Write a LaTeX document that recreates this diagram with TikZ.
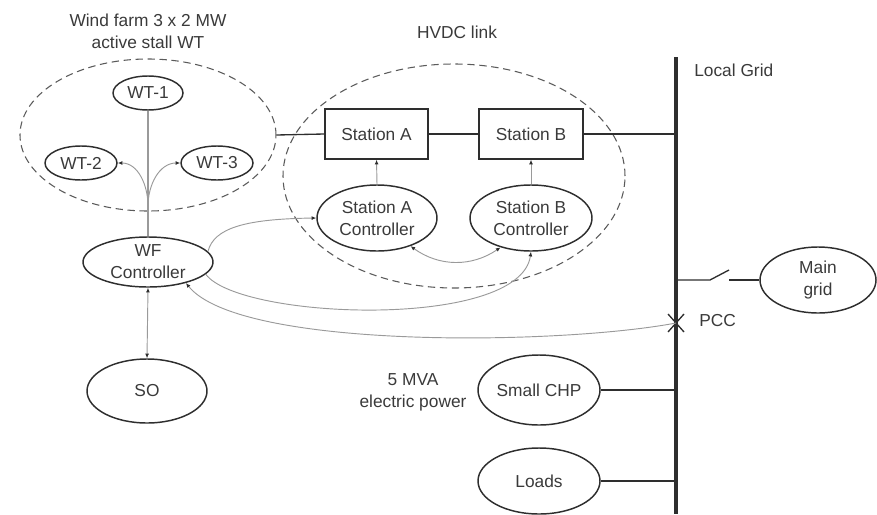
\documentclass[tikz,border=0pt]{standalone}
\usepackage{fontspec}
\setmainfont{Liberation Sans}
\usetikzlibrary{arrows.meta,shapes.geometric,calc}

\definecolor{ink}{HTML}{2E2E2E}
\definecolor{txt}{HTML}{3A3A3A}
\definecolor{ctlgray}{HTML}{9A9A9A}
\definecolor{dashgray}{HTML}{5A5A5A}

\begin{document}
\begin{tikzpicture}[x=0.75pt,y=-0.75pt,
  font=\fontsize{13}{16.5}\selectfont,
  every node/.style={text=txt},
  sz/.style 2 args={minimum width=#1*0.75pt, minimum height=#2*0.75pt},
  unit/.style={ellipse, draw=ink, line width=1.1pt, inner sep=0pt, align=center},
  station/.style={rectangle, draw=ink, line width=1.1pt, inner sep=0pt},
  group/.style={ellipse, draw=dashgray, line width=0.8pt, dash pattern=on 5.5pt off 3.5pt, inner sep=0pt},
  power/.style={draw=ink, line width=1pt},
  bus/.style={draw=ink, line width=2.3pt},
  ctl/.style={draw=ctlgray, line width=0.7pt},
  tip/.style={-{Latex[length=3.5pt,width=3pt,color=ink]}},
  tips/.style={{Latex[length=3.5pt,width=3pt,color=ink]}-{Latex[length=3.5pt,width=3pt,color=ink]}},
  label/.style={align=center, inner sep=0pt}
]
\useasboundingbox (0,0) rectangle (877,514);

% dashed groupings
\node[group, sz={256}{152}] (wfarm) at (148,135) {};
\node[group, sz={342}{224}] (hvdc) at (454,176) {};

% wind farm units
\node[unit, sz={70}{34}] (wt1) at (148,93) {WT-1};
\node[unit, sz={72}{34}] (wt2) at (81,163) {WT-2};
\node[unit, sz={72}{34}] (wt3) at (217,163) {WT-3};
\node[unit, sz={130}{50}] (wf) at (148,262) {WF\\Controller};
\node[unit, sz={120}{64}] (so) at (147,391) {SO};

% HVDC stations and controllers
\node[station, sz={103}{50}] (sta) at (376.5,134) {Station A};
\node[station, sz={104}{50}] (stb) at (531,134) {Station B};
\node[unit, sz={120}{66}] (actl) at (377,218) {Station A\\Controller};
\node[unit, sz={122}{66}] (bctl) at (531,218) {Station B\\Controller};

% grid side
\node[unit, sz={116}{66}] (main) at (818,280) {Main\\grid};
\node[unit, sz={122}{70}] (chp) at (539,390) {Small CHP};
\node[unit, sz={122}{66}] (loads) at (539,481) {Loads};

% labels
\node[label] (lwf) at (148,31) {Wind farm 3 x 2 MW\\active stall WT};
\node[label] (lhvdc) at (457,32) {HVDC link};
\node[label, anchor=west] (lgrid) at (694,70) {Local Grid};
\node[label, anchor=west] (lpcc) at (699,321) {PCC};
\node[label] (lchp) at (413,392) {5 MVA\\electric power};

% local grid bus bar
\coordinate (bustop) at (676,57);
\coordinate (busbot) at (676,514);
\draw[bus] (bustop) -- (busbot);

% power connections
\draw[power] (wfarm.east) -- (sta.west);
\draw[power] (sta.east) -- (stb.west);
\draw[power] (stb.east) -- (stb.east -| bustop);
\draw[power] (chp.east) -- (chp.east -| bustop);
\draw[power] (loads.east) -- (loads.east -| bustop);

% switch towards the main grid
\coordinate (sw0) at (676,280);
\coordinate (sw1) at (710,280);
\coordinate (sw2) at (729,270);
\coordinate (sw3) at (729,280);
\draw[power] (sw0) -- (sw1) -- (sw2);
\draw[power] (sw3) -- (main.west);

% point of common coupling
\coordinate (pcc) at (676,323);
\draw[power, line width=1pt] ($(pcc)+(-8,-9)$) -- ($(pcc)+(8,9)$)
      ($(pcc)+(-8,9)$) -- ($(pcc)+(8,-9)$);

% control signals inside the wind farm
\coordinate (fork) at (148,206);
\draw[ctl, line width=1.3pt] (wt1.south) -- (wf.north);
\draw[ctl, tip] (fork) to[out=90, in=0] (wt2.east);
\draw[ctl, tip] (fork) to[out=90, in=180] (wt3.west);
\draw[ctl, tips] (wf.south) -- (so.north);

% control signals of the HVDC link
\draw[ctl, tip] (actl.north) -- (sta.south);
\draw[ctl, tip] (bctl.north) -- (stb.south);
\draw[ctl, tips] (actl.-40) to[bend right=35] (bctl.-136);
\draw[ctl, tip] (wf.10) .. controls (214,228) and (245,219) .. (actl.west);
\draw[ctl, tip] (wf.-12) .. controls (240,320) and (520,330) .. (bctl.south);
\draw[ctl, tip] (pcc) .. controls (560,345) and (240,350) .. (wf.-29);
\end{tikzpicture}
\end{document}
